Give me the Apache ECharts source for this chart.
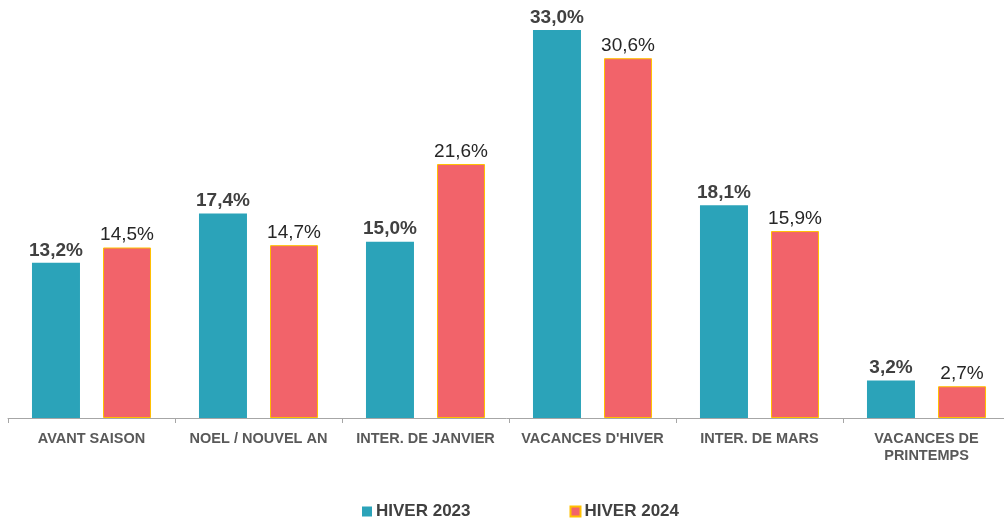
<!DOCTYPE html>
<html>
<head>
    <meta charset="utf-8">
    <title>Hiver 2023 / 2024</title>
    <script src="https://cdn.jsdelivr.net/npm/echarts@6/dist/echarts.min.js"></script>
    <style>
        html,body{
            height: 100%;
            margin: 0;
            padding: 0;
            background: #fff;
        }
    </style>
</head>
<body>
    <div id="main" style="width: 1004px;height:518px;"></div>
    <script type="text/javascript">
    var categories = ['AVANT SAISON', 'NOEL / NOUVEL AN', 'INTER. DE JANVIER', "VACANCES D'HIVER", 'INTER. DE MARS', 'VACANCES DE\nPRINTEMPS'];
    var hiver2023 = [13.2, 17.4, 15.0, 33.0, 18.1, 3.2];
    var hiver2024 = [14.5, 14.7, 21.6, 30.6, 15.9, 2.7];

    var fmt = function (p) {
        return p.value.toFixed(1).replace('.', ',') + '%';
    };

    var myChart = echarts.init(document.getElementById('main'));

    var option = {
        animation: false,
        textStyle: { fontFamily: 'Liberation Sans, Arial, sans-serif' },
        grid: {
            left: 8,
            top: 30,
            width: 1002,
            height: 388,
            outerBoundsMode: 'none'
        },
        legend: {
            top: 498,
            left: 357,
            padding: 5,
            itemWidth: 10,
            itemHeight: 10,
            itemGap: 99,
            icon: 'rect',
            textStyle: { fontSize: 17, fontWeight: 'bold', color: '#404040', padding: [0, 0, 0, -1] },
            data: ['HIVER 2023', 'HIVER 2024']
        },
        xAxis: {
            type: 'category',
            data: categories,
            axisLine: { lineStyle: { color: '#a6a6a6', width: 1 } },
            axisTick: { show: true, length: 5, lineStyle: { color: '#a6a6a6' } },
            axisLabel: {
                margin: 12,
                fontSize: 14.5,
                fontWeight: 'bold',
                color: '#595959',
                lineHeight: 17,
                interval: 0
            }
        },
        yAxis: {
            type: 'value',
            min: 0,
            max: 33,
            show: false,
            splitLine: { show: false }
        },
        series: [
            {
                name: 'HIVER 2023',
                type: 'bar',
                data: hiver2023,
                barWidth: 48,
                barGap: '48%',
                itemStyle: { color: '#2ba3b9' },
                label: {
                    show: true,
                    position: 'top',
                    distance: 3,
                    formatter: fmt,
                    fontSize: 19,
                    fontWeight: 'bold',
                    color: '#404040'
                }
            },
            {
                name: 'HIVER 2024',
                type: 'bar',
                data: hiver2024,
                barWidth: 48,
                itemStyle: { color: '#f2636a', borderColor: '#ffc000', borderWidth: 1 },
                label: {
                    show: true,
                    position: 'top',
                    distance: 3,
                    formatter: fmt,
                    fontSize: 19,
                    color: '#262626'
                }
            }
        ]
    };

    myChart.setOption(option);
    </script>
</body>
</html>
